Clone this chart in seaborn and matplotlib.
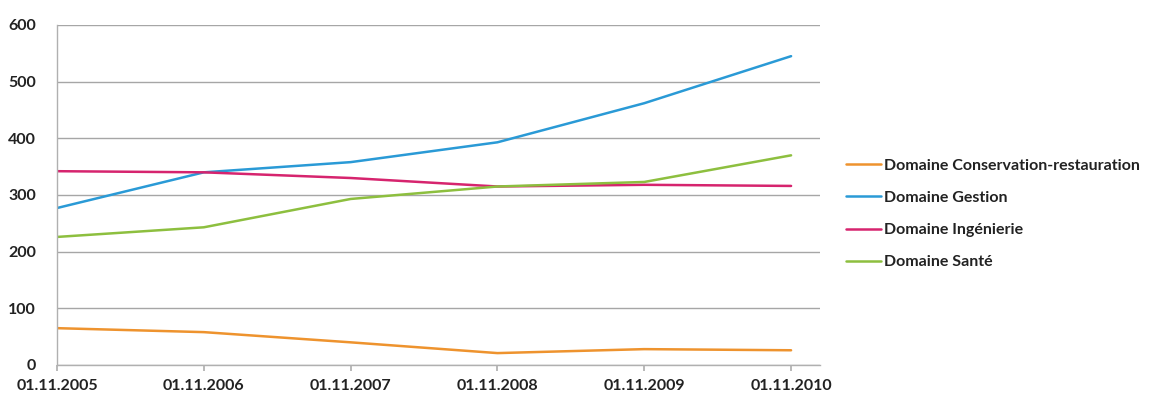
import matplotlib
matplotlib.use("Agg")
import matplotlib.pyplot as plt
import seaborn as sns
import pandas as pd

dates = ["01.11.2005", "01.11.2006", "01.11.2007", "01.11.2008", "01.11.2009", "01.11.2010"]
conservation = [65, 58, 40, 21, 28, 26]
gestion = [277, 340, 358, 393, 462, 545]
ingenierie = [342, 340, 330, 315, 318, 316]
sante = [226, 243, 293, 315, 323, 370]

series_names = ["Domaine Conservation-restauration", "Domaine Gestion",
                "Domaine Ingénierie", "Domaine Santé"]
series_values = [conservation, gestion, ingenierie, sante]
colors = ["#EE932E", "#2A9AD6", "#D6246E", "#8DBF3F"]

rows = []
for name, vals in zip(series_names, series_values):
    for i, v in enumerate(vals):
        rows.append({"pos": i, "date": dates[i], "value": v, "series": name})
df = pd.DataFrame(rows)

sns.set_theme(style="white")
plt.rcParams["font.family"] = ["Lato", "DejaVu Sans"]
plt.rcParams["font.weight"] = "bold"

fig = plt.figure(figsize=(11.51, 4.01), dpi=100)
ax = fig.add_axes([57/1151, 36/401, (820-57)/1151, (365-25)/401])

sns.lineplot(data=df, x="pos", y="value", hue="series", hue_order=series_names,
             palette=colors, linewidth=1.8, ax=ax, legend=True)

ax.set_xlim(0, 5.197)
ax.set_ylim(0, 600)
ax.set_yticks([0, 100, 200, 300, 400, 500, 600])
ax.set_xticks(range(len(dates)))
ax.set_xticklabels(dates)
ax.set_xlabel("")
ax.set_ylabel("")
ax.yaxis.grid(True, color="#A6A6A6", linewidth=1.0)
ax.xaxis.grid(False)
for s in ["top", "right"]:
    ax.spines[s].set_visible(False)
ax.spines["left"].set_color("#B0B0B0")
ax.spines["bottom"].set_color("#B0B0B0")
ax.spines["left"].set_linewidth(1.0)
ax.spines["bottom"].set_linewidth(1.0)
ax.tick_params(axis="x", which="both", bottom=True, length=4, color="#B0B0B0",
               labelsize=11.5, pad=6, labelcolor="#222222")
ax.tick_params(axis="y", left=False, labelsize=11.5, pad=9, labelcolor="#222222")
for lbl in ax.get_xticklabels() + ax.get_yticklabels():
    lbl.set_fontweight("bold")

handles, labels = ax.get_legend_handles_labels()
leg = ax.legend(handles, labels, loc="center left",
                bbox_to_anchor=(838/1151, (401-214)/401), bbox_transform=fig.transFigure,
                frameon=False, fontsize=11.5, handlelength=2.2, handletextpad=0.2,
                labelspacing=1.12, borderpad=0)
for t in leg.get_texts():
    t.set_fontweight("bold")
    t.set_color("#222222")

fig.savefig("out.png", dpi=100)
